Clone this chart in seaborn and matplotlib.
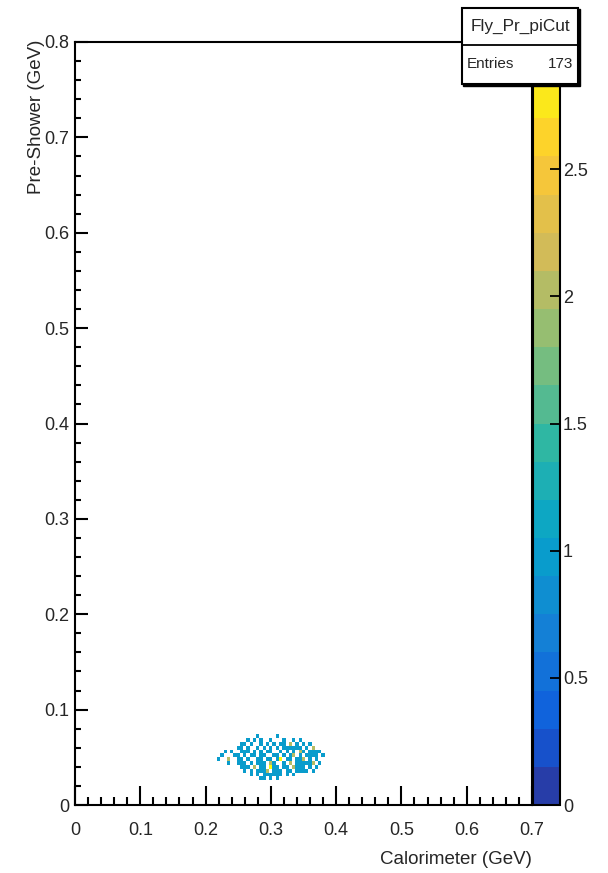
import numpy as np
import matplotlib
matplotlib.use("Agg")
import matplotlib.pyplot as plt
from matplotlib.colors import LinearSegmentedColormap, ListedColormap
from matplotlib.patches import Rectangle
from matplotlib.lines import Line2D
import seaborn as sns

# entries per row of the 2D histogram (Pre-Shower value -> Calorimeter values)
ROW_Y = [0.072, 0.068, 0.064, 0.060, 0.056, 0.052, 0.048, 0.044, 0.040, 0.036, 0.032, 0.028]
ROW_X = [
    [0.280, 0.310],
    [0.265, 0.275, 0.285, 0.300, 0.320, 0.335, 0.345],
    [0.255, 0.260, 0.270, 0.285, 0.295, 0.305, 0.315, 0.320, 0.330, 0.330, 0.340, 0.350, 0.360],
    [0.250, 0.255, 0.265, 0.280, 0.290, 0.300, 0.310, 0.320, 0.325, 0.330, 0.335, 0.340, 0.345,
     0.355, 0.365, 0.365],
    [0.230, 0.240, 0.255, 0.260, 0.265, 0.275, 0.285, 0.295, 0.300, 0.315, 0.325, 0.335, 0.345,
     0.345, 0.350, 0.360, 0.365, 0.370, 0.375],
    [0.225, 0.245, 0.250, 0.260, 0.270, 0.275, 0.285, 0.290, 0.305, 0.310, 0.320, 0.330, 0.335,
     0.335, 0.345, 0.355, 0.360, 0.365, 0.370, 0.380],
    [0.220, 0.235, 0.235, 0.250, 0.255, 0.265, 0.280, 0.285, 0.295, 0.300, 0.310, 0.315, 0.315,
     0.315, 0.325, 0.330, 0.340, 0.345, 0.350, 0.350, 0.360, 0.370],
    [0.235, 0.250, 0.255, 0.260, 0.270, 0.280, 0.285, 0.290, 0.300, 0.300, 0.305, 0.320, 0.330,
     0.330, 0.340, 0.345, 0.350, 0.355, 0.360, 0.365, 0.365, 0.375],
    [0.255, 0.260, 0.265, 0.275, 0.275, 0.285, 0.290, 0.300, 0.300, 0.300, 0.305, 0.310, 0.320,
     0.325, 0.335, 0.335, 0.340, 0.345, 0.350, 0.360, 0.370],
    [0.260, 0.270, 0.280, 0.285, 0.290, 0.295, 0.295, 0.305, 0.310, 0.315, 0.325, 0.330, 0.340,
     0.345, 0.350, 0.355, 0.365],
    [0.270, 0.280, 0.290, 0.295, 0.300, 0.305, 0.310, 0.315, 0.325, 0.335],
    [0.285, 0.290, 0.300, 0.310],
]
HIST_NAME = "Fly_Pr_piCut"
X_LABEL = "Calorimeter (GeV)"
Y_LABEL = "Pre-Shower (GeV)"

xs, ys = [], []
for yv, row in zip(ROW_Y, ROW_X):
    xs += row
    ys += [yv] * len(row)
xs = np.array(xs)
ys = np.array(ys)

# ROOT kBird palette, 20 contour levels
stops = [0.0, 0.125, 0.25, 0.375, 0.5, 0.625, 0.75, 0.875, 1.0]
red = [0.2082, 0.0592, 0.0780, 0.0232, 0.1802, 0.5301, 0.8186, 0.9956, 0.9764]
green = [0.1664, 0.3599, 0.5041, 0.6419, 0.7178, 0.7492, 0.7328, 0.7862, 0.9832]
blue = [0.5293, 0.8684, 0.8385, 0.7914, 0.6425, 0.4662, 0.3499, 0.1968, 0.0539]
bird = LinearSegmentedColormap.from_list("bird", list(zip(stops, zip(red, green, blue))))
ndiv = 20
band_cols = [bird(int((i + 0.99) * 255 / ndiv) / 254) for i in range(ndiv)]
cmap = ListedColormap(band_cols)

sns.set_style("ticks")
plt.rcParams["font.family"] = ["Liberation Sans", "DejaVu Sans"]

W, H = 608, 873
fig = plt.figure(figsize=(W / 100, H / 100), dpi=100)
ax = fig.add_axes([75 / W, 1 - 805 / H, 457 / W, 763 / H])
cax = fig.add_axes([533 / W, 1 - 805 / H, 27 / W, 763 / H])

x_edges = np.arange(-0.0025, 0.7051, 0.005)
y_edges = np.arange(-0.002, 0.8041, 0.004)
sns.histplot(x=xs, y=ys, bins=[x_edges, y_edges], cmap=cmap, vmin=0, vmax=3,
             cbar=True, cbar_ax=cax, ax=ax)

ax.set_xlim(0, 0.7)
ax.set_ylim(0, 0.8)
ax.grid(False)
ax.set_xticks(np.arange(0, 0.71, 0.1))
ax.set_xticklabels(["0", "0.1", "0.2", "0.3", "0.4", "0.5", "0.6", "0.7"])
ax.set_yticks(np.arange(0, 0.81, 0.1))
ax.set_yticklabels(["0", "0.1", "0.2", "0.3", "0.4", "0.5", "0.6", "0.7", "0.8"])
ax.set_xticks(np.arange(0, 0.701, 0.02), minor=True)
ax.set_yticks(np.arange(0, 0.801, 0.02), minor=True)
ax.tick_params(axis="x", which="major", direction="in", length=14, width=1.5,
               labelsize=13, pad=12, top=False, color="black")
ax.tick_params(axis="x", which="minor", direction="in", length=6, width=1.5, top=False,
               color="black")
ax.tick_params(axis="y", which="major", direction="in", length=9, width=1.5,
               labelsize=13, pad=4, right=False, color="black")
ax.tick_params(axis="y", which="minor", direction="in", length=4.5, width=1.5, right=False,
               color="black")
for s in ax.spines.values():
    s.set_linewidth(1.5)
    s.set_color("black")
ax.set_xlabel(X_LABEL, fontsize=13.5, loc="right")
ax.xaxis.set_label_coords(1.0, -0.060)
ax.set_ylabel(Y_LABEL, fontsize=13.5, loc="top")
ax.yaxis.set_label_coords(-0.066, 1.003)

cax.set_ylim(0, 3)
cax.set_axisbelow(False)
cax.set_yticks([0, 0.5, 1, 1.5, 2, 2.5])
cax.set_yticklabels(["0", "0.5", "1", "1.5", "2", "2.5"])
cax.minorticks_off()
cax.tick_params(axis="y", which="major", direction="in", length=7, width=1.3, labelsize=13,
                pad=2, left=False, right=True, labelright=True, labelleft=False,
                color="black")
for s in cax.spines.values():
    s.set_linewidth(1.5)
    s.set_color("black")
cax.set_ylabel("")

# stats box
bx0, bx1 = 462 / W, 578 / W
by0, bmid, by1 = 1 - 84 / H, 1 - 45 / H, 1 - 8 / H
fig.patches.append(Rectangle((bx0 + 1.5 / W, by0 - 1.5 / H), bx1 - bx0, by1 - by0,
                             transform=fig.transFigure, facecolor="black",
                             edgecolor="black", linewidth=1.0, zorder=9))
fig.patches.append(Rectangle((bx0, by0), bx1 - bx0, by1 - by0, transform=fig.transFigure,
                             facecolor="white", edgecolor="black", linewidth=1.5, zorder=10))
fig.lines.append(Line2D([bx0, bx1], [bmid, bmid], transform=fig.transFigure,
                        color="black", linewidth=1.3, zorder=11))
fig.text((bx0 + bx1) / 2, (bmid + by1) / 2, HIST_NAME, ha="center", va="center",
         fontsize=12.4, zorder=12)
fig.text(bx0 + 5 / W, (by0 + bmid) / 2, "Entries", ha="left", va="center",
         fontsize=11, zorder=12)
fig.text(bx1 - 5 / W, (by0 + bmid) / 2, str(len(xs)), ha="right", va="center",
         fontsize=11, zorder=12)

fig.savefig("out.png", dpi=100)
